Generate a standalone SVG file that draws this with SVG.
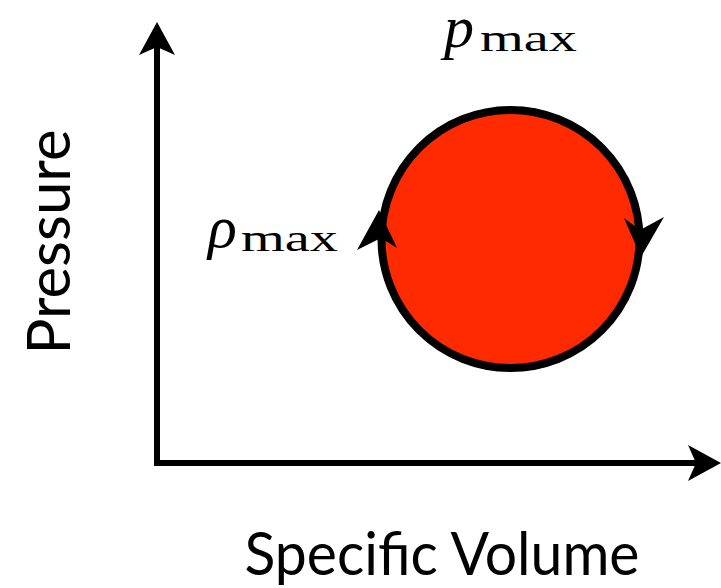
<svg xmlns="http://www.w3.org/2000/svg" width="721" height="588" viewBox="0 0 721 588">
<style>
.ax{stroke:#000;stroke-width:6;fill:none}
.lbl{font-family:"Lato","Liberation Sans",sans-serif;font-size:60px;fill:#000}
.math{font-family:"Liberation Serif","DejaVu Serif",serif;fill:#000}
</style>
<rect width="721" height="588" fill="#fff"/>
<g id="connectors">
<line class="ax" x1="157" y1="466" x2="157" y2="45"/>
<polygon points="157,22 175,55 157,47 139,55" fill="#000"/>
<line class="ax" x1="154" y1="463" x2="700" y2="463"/>
<polygon points="721,463 688,481 696,463 688,445" fill="#000"/>
</g>
<g id="cycle">
<circle cx="510.5" cy="239" r="129" fill="#ff2a00" stroke="#000" stroke-width="8"/>
<polygon points="379,210 397,248 381,238 357,250" fill="#000"/>
<polygon points="641,257 624,218 640,230 664,217" fill="#000"/>
</g>
<g id="pmax">
<text class="math" x="444" y="47" font-size="60" font-style="italic">p</text>
<text class="math" x="480" y="51" font-size="38" textLength="97" lengthAdjust="spacingAndGlyphs">max</text>
</g>
<g id="rhomax">
<text class="math" x="208" y="247" font-size="60" font-style="italic">ρ</text>
<text class="math" x="241" y="251" font-size="38" textLength="97" lengthAdjust="spacingAndGlyphs">max</text>
</g>
<g id="ylabel">
<text class="lbl" x="0" y="0" text-anchor="middle" textLength="225" lengthAdjust="spacingAndGlyphs" transform="translate(70,242) rotate(-90)">Pressure</text>
</g>
<g id="xlabel">
<text class="lbl" x="442" y="575" text-anchor="middle" textLength="395" lengthAdjust="spacingAndGlyphs">Specific Volume</text>
</g>
</svg>
